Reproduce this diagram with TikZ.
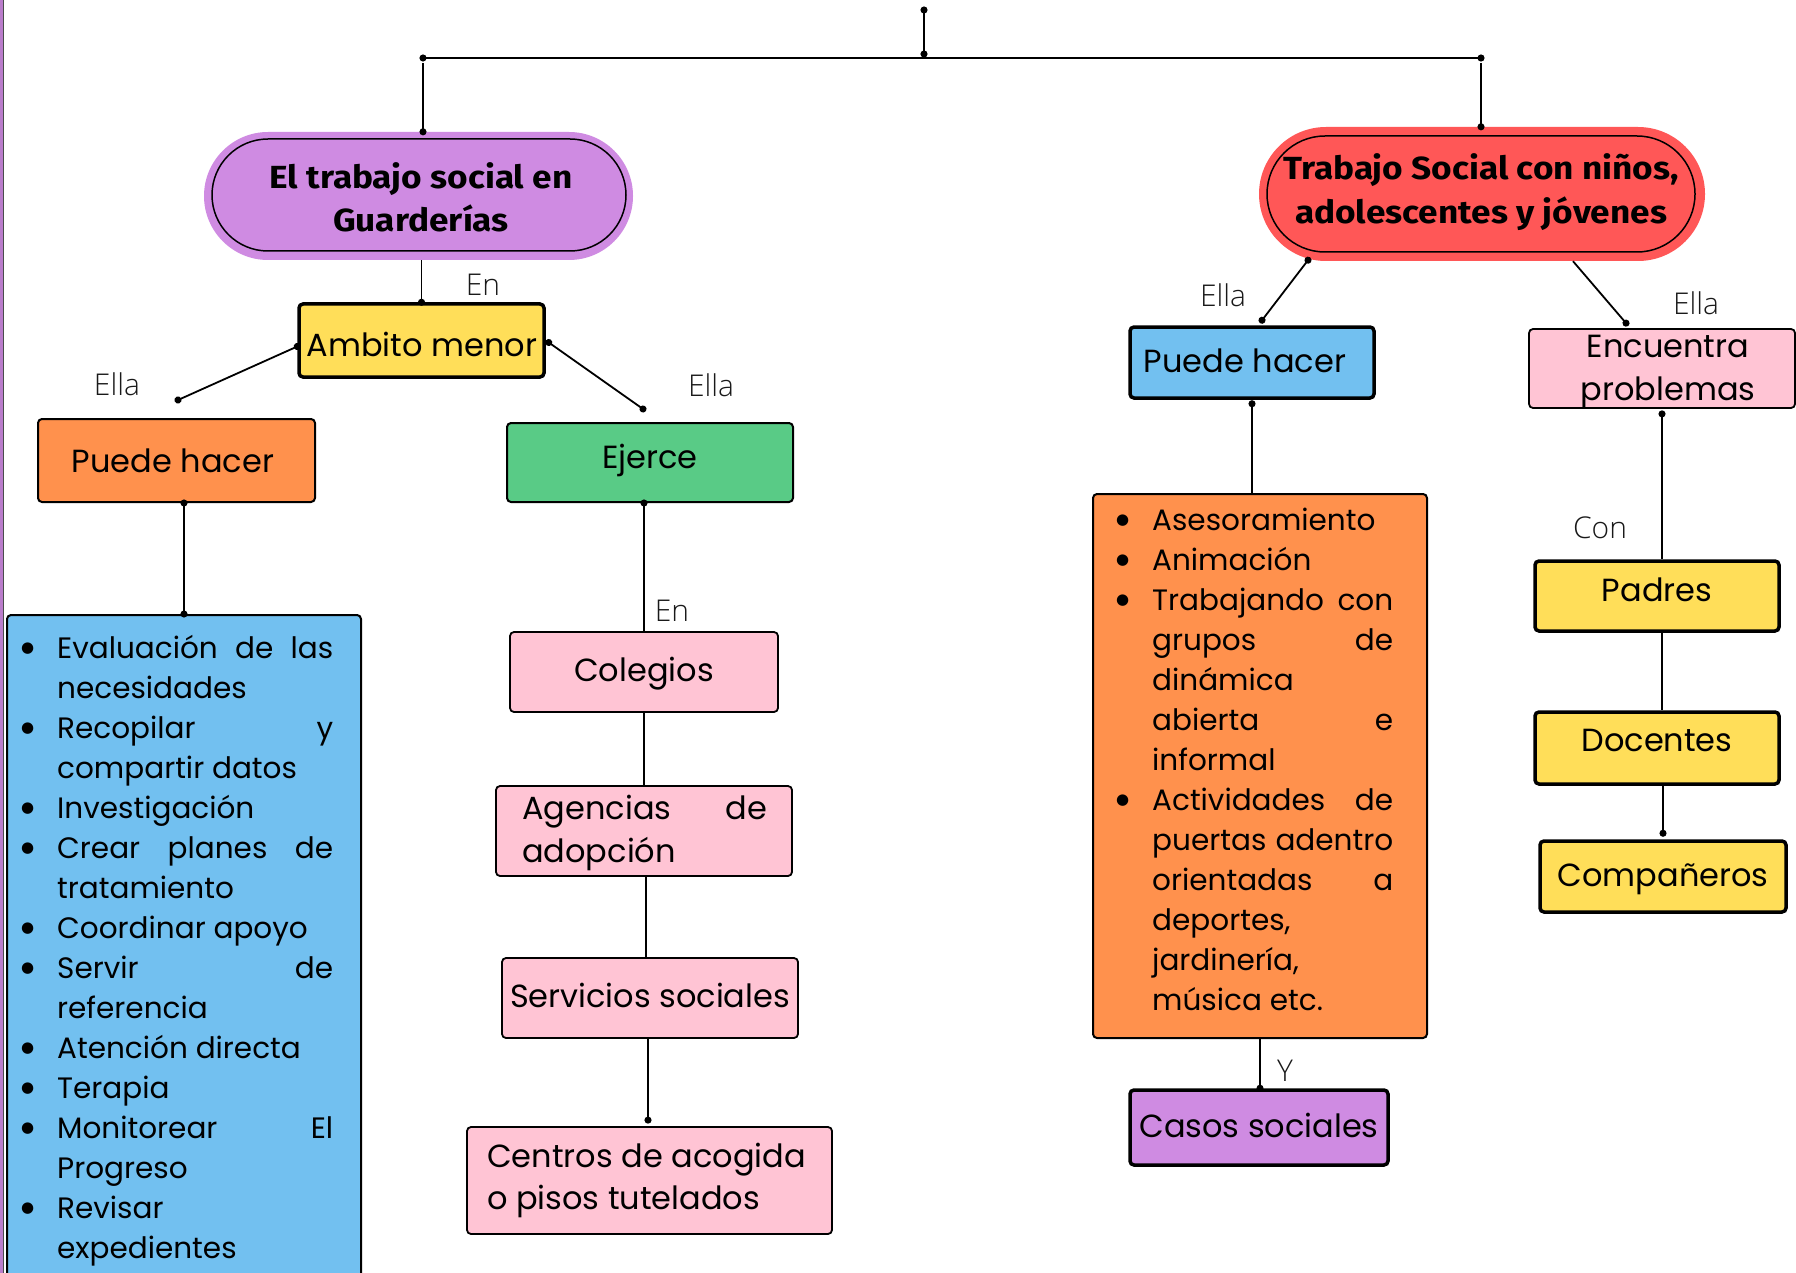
\documentclass[tikz,border=0pt]{standalone}
\usepackage{fontspec}
\setmainfont{Poppins}
\newfontfamily\titlefont{Fira Sans}
\IfFontExistsTF{Open Sans Light}{\newfontfamily\labfont{Open Sans Light}}{\newfontfamily\labfont{Open Sans}}
\newfontfamily\symfont{DejaVu Sans}
\usetikzlibrary{arrows.meta}
\definecolor{cpurple}{HTML}{CF8BE2}
\definecolor{cred}{HTML}{FF5757}
\definecolor{cyellow}{HTML}{FFDE59}
\definecolor{corange}{HTML}{FF914D}
\definecolor{cgreen}{HTML}{59CB86}
\definecolor{cblue}{HTML}{72C0F0}
\definecolor{cpink}{HTML}{FFC4D4}
\newcommand\boxfont{\fontsize{32}{40}\selectfont}
\newcommand\listfont{\fontsize{29.5}{40}\selectfont}
\newcommand\bitem{\par\noindent\hangindent=37pt\hangafter=1\makebox[37pt][l]{\hspace{1pt}\raisebox{6pt}{\symfont\fontsize{15}{15}\selectfont ●}}}
\tikzset{
  boxbase/.style={draw=black, rounded corners=4pt, inner sep=0pt, line width=2pt},
  boxthick/.style={boxbase, line width=3.5pt},
  boxpink/.style={boxbase, fill=cpink, line width=1.8pt},
  txt/.style={anchor=base, inner sep=0pt, font=\boxfont},
  ttl/.style={anchor=base, inner sep=0pt, font=\titlefont\bfseries\fontsize{32}{40}\selectfont},
  lab/.style={anchor=base, inner sep=0pt, text=black!90, font=\labfont\fontsize{30}{34}\selectfont},
  conn/.style={line width=1.8pt, black},
  dotend/.style={-{Circle[length=7pt]}, shorten >=-3.5pt},
  dotstart/.style={{Circle[length=7pt]}-, shorten <=-3.5pt},
  dotboth/.style={{Circle[length=7pt]}-{Circle[length=7pt]}, shorten >=-3.5pt, shorten <=-3.5pt},
}
\begin{document}
\begin{tikzpicture}[x=1pt,y=-1pt]
\useasboundingbox (0,0) rectangle (1796,1273);
\clip (0,0) rectangle (1796,1273);
\fill[white] (0,0) rectangle (1796,1273);
% left edge strip
\fill[cpurple!90!black] (0,0) rectangle (3,1273);
\draw[line width=1pt, black!70] (3.5,0) -- (3.5,1273);

% title pills
\node[fill=cpurple, minimum width=429pt, minimum height=128pt, rounded corners=64pt, inner sep=0pt] (t1o) at (418.5,196) {};
\node[fill=cpurple, draw=black, line width=1.5pt, minimum width=414pt, minimum height=112pt, rounded corners=56pt, inner sep=0pt] (t1) at (419,195) {};
\node[ttl] (t1a) at (421,189) {\scalebox{1.1}[1]{El trabajo social en}};
\node[ttl] (t1b) at (421,232) {\scalebox{1.1}[1]{Guarderías}};

\node[fill=cred, minimum width=446pt, minimum height=134pt, rounded corners=67pt, inner sep=0pt] (t2o) at (1482,194) {};
\node[fill=cred, draw=black, line width=1.5pt, minimum width=428pt, minimum height=116pt, rounded corners=58pt, inner sep=0pt] (t2) at (1481,194) {};
\node[ttl] (t2a) at (1481,180) {\scalebox{1.1}[1]{Trabajo Social con niños,}};
\node[ttl] (t2b) at (1481,224) {\scalebox{1.1}[1]{adolescentes y jóvenes}};

% left branch boxes
\node[boxthick, fill=cyellow, minimum width=245pt, minimum height=73pt] (ambito) at (421.5,340.5) {};
\node[txt] (ambito-t) at (422,356) {Ambito menor};

\node[boxbase, fill=corange, minimum width=277pt, minimum height=83pt] (p1) at (176.5,460.5) {};
\node[txt] (p1-t) at (173,472) {Puede hacer};

\node[boxbase, fill=cgreen, minimum width=286pt, minimum height=79pt] (ejerce) at (650,462.5) {};
\node[txt] (ejerce-t) at (650,468) {Ejerce};

\node[boxbase, fill=cblue, minimum width=354pt, minimum height=700pt] (list1) at (184,965) {};
\node[anchor=base west, inner sep=0pt] (list1-t) at (20,658) {\parbox[t]{313pt}{\listfont\tolerance=10000\hbadness=10000\hyphenpenalty=10000\exhyphenpenalty=10000
\bitem Evaluación~de~las\linebreak necesidades
\bitem Recopilar~y\linebreak compartir~datos
\bitem Investigación
\bitem Crear~planes~de\linebreak tratamiento
\bitem Coordinar~apoyo
\bitem Servir~de\linebreak referencia
\bitem Atención~directa
\bitem Terapia
\bitem Monitorear~El\linebreak Progreso
\bitem Revisar\newline expedientes\par}};

\node[boxpink, minimum width=268pt, minimum height=80pt] (cole) at (644,672) {};
\node[txt] (cole-t) at (644,681) {Colegios};

\node[boxpink, minimum width=296pt, minimum height=90pt] (agen) at (644,831) {};
\node[anchor=base west, inner sep=0pt] (agen-t) at (522,819) {\parbox[t]{245pt}{\fontsize{32}{43}\selectfont\tolerance=10000\hbadness=10000\hyphenpenalty=10000 Agencias~de\linebreak adopción\par}};

\node[boxpink, minimum width=296pt, minimum height=80pt] (serv) at (650,998) {};
\node[txt] (serv-t) at (650,1007) {Servicios sociales};

\node[boxpink, minimum width=365pt, minimum height=107pt] (cent) at (649.5,1180.5) {};
\node[txt, anchor=base west] (cent-a) at (487,1167) {Centros de acogida};
\node[txt, anchor=base west] (cent-b) at (487,1209) {o pisos tutelados};

% right branch boxes
\node[boxthick, fill=cblue, minimum width=244pt, minimum height=71pt] (p2) at (1252,362.5) {};
\node[txt] (p2-t) at (1245,372) {Puede hacer};

\node[boxbase, fill=cpink, line width=1.8pt, minimum width=266pt, minimum height=79pt] (enc) at (1662,368.5) {};
\node[txt] (enc-a) at (1668,357) {Encuentra};
\node[txt] (enc-b) at (1668,400) {problemas};

\node[boxbase, fill=corange, minimum width=334pt, minimum height=544pt] (list2) at (1260,766) {};
\node[anchor=base west, inner sep=0pt] (list2-t) at (1115,530) {\parbox[t]{278pt}{\listfont\tolerance=10000\hbadness=10000\hyphenpenalty=10000\exhyphenpenalty=10000
\bitem Asesoramiento
\bitem Animación
\bitem Trabajando~con\linebreak grupos~de\linebreak dinámica\newline abierta~e\linebreak informal
\bitem Actividades~de\linebreak puertas~adentro\linebreak orientadas~a\linebreak deportes,\newline jardinería,\newline música~etc.\par}};

\node[boxthick, fill=cpurple, minimum width=258pt, minimum height=75pt] (casos) at (1259,1127.5) {};
\node[txt] (casos-t) at (1259,1137) {Casos sociales};

\node[boxthick, fill=cyellow, minimum width=244pt, minimum height=70pt] (padres) at (1657,596) {};
\node[txt] (padres-t) at (1657,601) {Padres};
\node[boxthick, fill=cyellow, minimum width=244pt, minimum height=72pt] (doc) at (1657,748) {};
\node[txt] (doc-t) at (1657,751) {Docentes};
\node[boxthick, fill=cyellow, minimum width=246pt, minimum height=71pt] (comp) at (1663,876.5) {};
\node[txt] (comp-t) at (1663,886) {Compañeros};

% connectors
\coordinate (top) at (924,10);
\coordinate (topj) at (924,54);
\coordinate (hl) at (423,58);
\coordinate (hr) at (1481,58);
\coordinate (e1) at (178,400);
\coordinate (e2) at (643,409);
\draw[conn, dotboth] (top) -- (topj);
\draw[conn, dotboth] (hl) -- (hr);
\draw[conn, dotend] ([yshift=-5pt]hl) -- (hl |- t1o.north);
\draw[conn, dotend] ([yshift=-5pt]hr) -- (hr |- t2o.north);
\draw[conn, dotend] (ambito.north |- t1o.south) -- (ambito.north);
\draw[conn, dotboth] ([yshift=-6pt]ambito.west) -- (e1);
\draw[conn, dotboth] ([xshift=3pt,yshift=-2pt]ambito.east) -- (e2);
\draw[conn, dotboth] (list1.north |- p1.south) -- (list1.north);
\draw[conn, dotstart] (cole.north |- ejerce.south) -- (cole.north);
\draw[conn] (cole.south) -- (cole.south |- agen.north);
\draw[conn] ([xshift=2pt]agen.south) -- ([xshift=2pt]agen.south |- serv.north);
\draw[conn, dotend] ([xshift=-2pt]serv.south) -- ([xshift=-2pt,yshift=6pt]serv.south |- cent.north);
\draw[conn, dotboth] ([xshift=-174pt,yshift=1pt]t2o.south) -- ([xshift=10pt,yshift=5pt]p2.north);
\draw[conn, dotend] ([xshift=91pt]t2o.south) -- ([xshift=-36pt,yshift=5pt]enc.north);
\draw[conn, dotstart] ([yshift=-4pt]p2.south) -- (p2.south |- list2.north);
\draw[conn, dotend] (list2.south) -- (list2.south |- casos.north);
\draw[conn, dotstart] ([yshift=-5pt]enc.south) -- (enc.south |- padres.north);
\draw[conn] (padres.south -| enc.south) -- (doc.north -| enc.south);
\draw[conn, dotend] (comp.north |- doc.south) -- ([yshift=6pt]comp.north);

% labels
\node[lab] (l-en1) at (483,296) {En};
\node[lab] (l-ella1) at (117,395) {Ella};
\node[lab] (l-ella2) at (711,396) {Ella};
\node[lab] (l-en2) at (672,621) {En};
\node[lab] (l-ella3) at (1223,307) {Ella};
\node[lab] (l-ella4) at (1696,315) {Ella};
\node[lab] (l-con) at (1600,538) {Con};
\node[lab] (l-y) at (1285,1081) {Y};
\end{tikzpicture}
\end{document}
